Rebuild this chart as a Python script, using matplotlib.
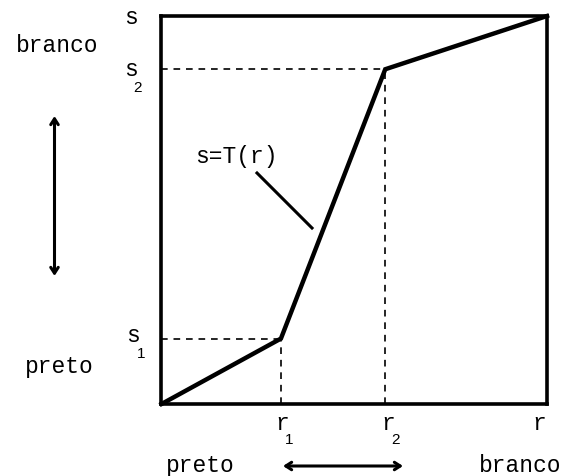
import matplotlib
matplotlib.use("Agg")
import matplotlib.pyplot as plt
from matplotlib.patches import FancyArrowPatch

# Piecewise-linear contrast stretching T(r) on gray levels 0..L
L = 255
r_pts = [0, 79, 148, 255]     # 0, r1, r2, L
s_pts = [0, 43, 220, 255]     # 0, s1, s2, L
r1, r2 = r_pts[1], r_pts[2]
s1, s2 = s_pts[1], s_pts[2]

W, H = 566, 477
fig = plt.figure(figsize=(W / 100, H / 100), dpi=100)

def fx(px):
    return px / W

def fy(py):
    return 1 - py / H

left, right, top, bottom = 161.5, 547.0, 17.0, 405.0
ax = fig.add_axes([fx(left), fy(bottom), (right - left) / W, (bottom - top) / H])
ax.set_xlim(0, L)
ax.set_ylim(0, L)
ax.set_xticks([])
ax.set_yticks([])
for sp in ax.spines.values():
    sp.set_linewidth(2.6)
    sp.set_color("black")

# dashed guides
dash = dict(color="black", lw=1.2, dashes=(4, 3.5))
ax.plot([0, r1], [s1, s1], **dash)
ax.plot([r1, r1], [0, s1], **dash)
ax.plot([0, r2], [s2, s2], **dash)
ax.plot([r2, r2], [0, s2], **dash)

# transformation curve
ax.plot(r_pts, s_pts, color="black", lw=3.2, solid_joinstyle="miter",
        clip_on=False, zorder=5)

mono = dict(family=["Liberation Mono", "DejaVu Sans Mono"], fontsize=16.5,
            color="black")
sub = dict(family=["Liberation Sans", "DejaVu Sans"], fontsize=11, color="black")

def t(px, py, s, **kw):
    fig.text(fx(px), fy(py), s, ha="center", va="center", **kw)

# left side labels
t(131, 17, "s", **mono)
t(57, 45, "branco", **mono)
t(131, 69, "s", **mono)
t(137, 88, "2", **sub)
t(133, 336, "s", **mono)
t(141, 354, "1", **sub)
t(59, 366, "preto", **mono)

# bottom labels
t(282, 424, "r", **mono)
t(289, 440, "1", **sub)
t(388, 424, "r", **mono)
t(396, 440, "2", **sub)
t(539, 424, "r", **mono)
t(200, 466, "preto", **mono)
t(520, 466, "branco", **mono)

# curve label and pointer
t(236, 157, "s=T(r)", **mono)
fig.add_artist(plt.Line2D([fx(257), fx(312)], [fy(174), fy(229)],
                          transform=fig.transFigure, color="black", lw=2.2))

# double-headed arrows
arrow = dict(arrowstyle="<->,head_length=0.28,head_width=0.18", color="black",
             lw=2.2, shrinkA=0, shrinkB=0, mutation_scale=15)
fig.add_artist(FancyArrowPatch(
    (fx(54.5), fy(117)), (fx(54.5), fy(277)), transform=fig.transFigure, **arrow))
fig.add_artist(FancyArrowPatch(
    (fx(283), fy(467)), (fx(403), fy(467)), transform=fig.transFigure, **arrow))

fig.savefig("out.png", dpi=100)
